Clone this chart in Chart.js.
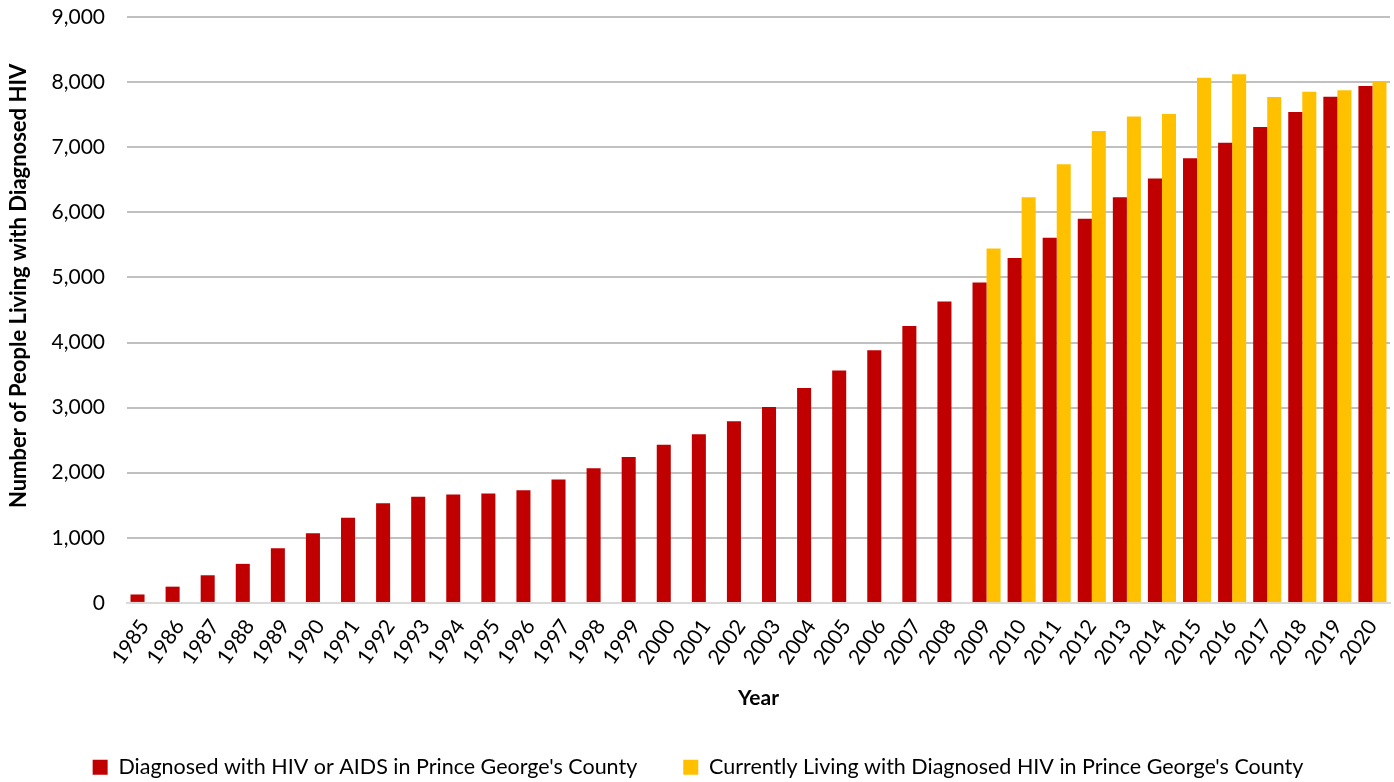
<!DOCTYPE html>
<html>
<head>
<meta charset="utf-8">
<script src="https://cdn.jsdelivr.net/npm/chart.js@4/dist/chart.umd.min.js"></script>
<style>
html,body{margin:0;padding:0;background:#fff;}
#wrap{width:1394px;height:782px;}
</style>
</head>
<body>
<div id="wrap"><canvas id="c" width="1394" height="782"></canvas></div>
<script>
const years = ['1985','1986','1987','1988','1989','1990','1991','1992','1993','1994','1995','1996','1997','1998','1999','2000','2001','2002','2003','2004','2005','2006','2007','2008','2009','2010','2011','2012','2013','2014','2015','2016','2017','2018','2019','2020'];
const diagnosed = [130,250,425,600,840,1070,1310,1530,1630,1665,1680,1730,1895,2068,2240,2430,2590,2790,3010,3300,3570,3880,4255,4630,4920,5300,5610,5900,6230,6520,6830,7070,7310,7540,7775,7940];
const living = [null,null,null,null,null,null,null,null,null,null,null,null,null,null,null,null,null,null,null,null,null,null,null,null,5445,6230,6740,7250,7470,7510,8065,8120,7770,7850,7875,8015];
const seriesNames = ["Diagnosed with HIV or AIDS in Prince George's County","Currently Living with Diagnosed HIV in Prince George's County"];
const yTitle = 'Number of People Living with Diagnosed HIV';
const xTitle = 'Year';
const yTicks = [0,1000,2000,3000,4000,5000,6000,7000,8000,9000];

const FONT = "Lato, 'Open Sans', sans-serif";
Chart.defaults.font.family = FONT;
Chart.defaults.color = '#000';

new Chart(document.getElementById('c'), {
  type: 'bar',
  data: {
    labels: years,
    datasets: [
      {label: seriesNames[0], data: diagnosed, backgroundColor: '#C00000', borderWidth: 0},
      {label: seriesNames[1], data: living, backgroundColor: '#FFC000', borderWidth: 0}
    ]
  },
  options: {
    responsive: false,
    animation: false,
    devicePixelRatio: 1,
    layout: {padding: {left: 6, right: 4, top: 17, bottom: -6}},
    datasets: {bar: {categoryPercentage: 0.8, barPercentage: 1.0}},
    plugins: {
      legend: {
        position: 'bottom',
        labels: {boxWidth: 15, boxHeight: 15, padding: 46, font: {size: 21.5}, color: '#000'}
      },
      tooltip: {enabled: false}
    },
    scales: {
      x: {
        afterFit: (s) => { s.paddingLeft = 0; s.paddingRight = 0; },
        grid: {display: false},
        border: {color: '#D9D9D9', width: 2},
        ticks: {font: {size: 21}, minRotation: 55, maxRotation: 55, padding: 4, color: '#000'},
        title: {display: true, text: xTitle, font: {size: 21, weight: 'bold'}, color: '#000', padding: {top: 12, bottom: 0}}
      },
      y: {
        min: 0, max: 9000,
        afterBuildTicks: (s) => { s.ticks = yTicks.map(v => ({value: v})); },
        afterFit: (s) => { s.width = 121; s.paddingTop = 0; s.paddingBottom = 0; },
        grid: {color: '#C0C0C0', lineWidth: 2, drawTicks: false},
        border: {display: false},
        ticks: {font: {size: 21}, padding: 22, color: '#000', callback: (v) => Number(v).toLocaleString('en-US')},
        title: {display: true, text: ' '.repeat(9) + yTitle, font: {size: 22, weight: 'bold'}, color: '#000', padding: {top: 0, bottom: 20}}
      }
    }
  }
});
</script>
</body>
</html>
